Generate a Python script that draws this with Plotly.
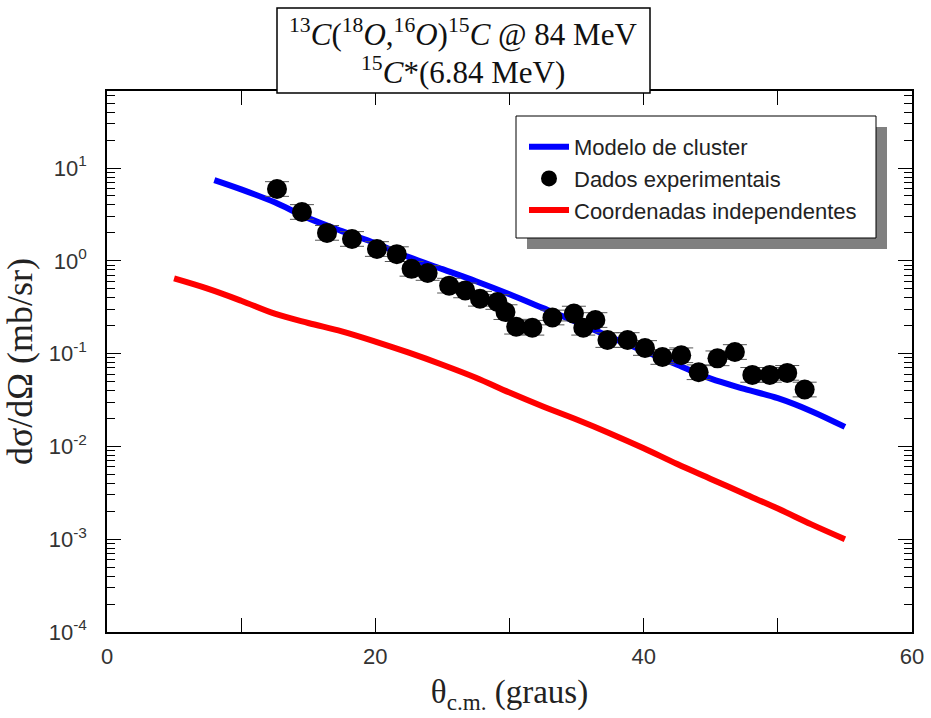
import plotly.graph_objects as go

# ---- data ----
theta_cluster = [8, 10, 12.5, 15, 17.5, 20, 22.5, 25, 27.5, 30, 32.5, 35, 37.5, 40, 42.5, 45, 47.5, 50, 52.5, 55]
log_cluster = [0.87, 0.77, 0.63, 0.46, 0.32, 0.19, 0.04, -0.09, -0.22, -0.36, -0.51, -0.66, -0.82, -0.97,
               -1.12, -1.27, -1.38, -1.48, -1.62, -1.79]
sigma_cluster = [10 ** v for v in log_cluster]

theta_indep = [5, 7.5, 10, 12.5, 15, 17.5, 20, 22.5, 25, 27.5, 30, 32.5, 35, 37.5, 40, 42.5, 45, 47.5, 50, 52.5, 55]
log_indep = [-0.19, -0.30, -0.43, -0.57, -0.67, -0.76, -0.87, -0.99, -1.12, -1.26, -1.42, -1.57, -1.71, -1.86,
             -2.02, -2.19, -2.35, -2.51, -2.67, -2.84, -3.0]
sigma_indep = [10 ** v for v in log_indep]

theta_exp = [12.67, 14.53, 16.4, 18.26, 20.12, 21.6, 22.7, 23.9, 25.5, 26.7, 27.8, 29.1, 29.7, 30.5, 31.7,
             33.2, 34.8, 35.5, 36.4, 37.3, 38.8, 40.1, 41.4, 42.8, 44.1, 45.5, 46.8, 48.1, 49.4, 50.7, 52.0]
sigma_exp = [5.94, 3.36, 2.0, 1.72, 1.34, 1.18, 0.82, 0.74, 0.54, 0.48, 0.39, 0.36, 0.28, 0.195, 0.19,
             0.245, 0.27, 0.19, 0.23, 0.14, 0.14, 0.115, 0.092, 0.096, 0.063, 0.089, 0.104, 0.059, 0.059,
             0.062, 0.041]
err_frac = 0.2

x_tickvals = [0, 10, 20, 30, 40, 50, 60]
x_ticktext = ["0", "", "20", "", "40", "", "60"]
y_exponents = [-4, -3, -2, -1, 0, 1]

title_line1 = ("<sup>13</sup><i>C</i>(<sup>18</sup><i>O</i>,<sup>16</sup><i>O</i>)"
               "<sup>15</sup><i>C</i> @ 84 MeV")
title_line2 = "<sup>15</sup><i>C</i>*(6.84 MeV)"

err_plus = [s * err_frac for s in sigma_exp]
err_minus = [s * err_frac / (1 + err_frac) for s in sigma_exp]

fig = go.Figure()
fig.add_trace(go.Scatter(x=theta_cluster, y=sigma_cluster, mode="lines", name="Modelo de cluster",
                         line=dict(color="#0000ff", width=6), line_shape="spline"))
fig.add_trace(go.Scatter(x=theta_exp, y=sigma_exp, mode="markers", name="Dados experimentais",
                         marker=dict(color="black", size=20, symbol="circle"),
                         error_y=dict(type="data", array=err_plus, arrayminus=err_minus,
                                      color="#555555", thickness=1, width=12)))
fig.add_trace(go.Scatter(x=theta_indep, y=sigma_indep, mode="lines", name="Coordenadas independentes",
                         line=dict(color="#ff0000", width=6), line_shape="spline"))

minor_y = [m * 10 ** e for e in range(-4, 2) for m in range(2, 10) if m * 10 ** e < 68]

L, R, T, B = 107, 19, 91, 86
PW, PH = 931 - L - R, 718 - T - B


def px_x(p):
    return (p - L) / PW


def px_y(p):
    return 1 - (p - T) / PH


fig.update_layout(
    width=931, height=718,
    margin=dict(l=L, r=R, t=T, b=B, autoexpand=False),
    paper_bgcolor="white", plot_bgcolor="white",
    showlegend=True,
    legend=dict(x=px_x(524), y=px_y(126), xanchor="left", yanchor="top",
                bgcolor="rgba(0,0,0,0)", borderwidth=0,
                font=dict(family="Liberation Sans", size=22, color="#222222"),
                tracegroupgap=4, itemwidth=40),
    xaxis=dict(range=[0, 60], tickvals=x_tickvals, ticktext=x_ticktext, automargin=False,
               ticks="inside", ticklen=14, tickcolor="black", tickwidth=1, ticklabelstandoff=4,
               showline=True, linecolor="black", linewidth=1.5, mirror="allticks",
               showgrid=False, zeroline=False,
               tickfont=dict(family="Liberation Sans", size=22, color="#333333"),
               title=dict(text="θ<sub>c.m.</sub> (graus)", standoff=12,
                          font=dict(family="Liberation Serif", size=33, color="#222222"))),
    yaxis=dict(type="log", range=[-4, 1.83], automargin=False,
               tickvals=[10 ** e for e in y_exponents],
               ticktext=["10<sup>%d</sup>" % e for e in y_exponents],
               ticks="inside", ticklen=14, tickcolor="black", tickwidth=1, ticklabelstandoff=14,
               minor=dict(tickvals=minor_y, ticks="inside", ticklen=8, tickcolor="black", tickwidth=1,
                          showgrid=False),
               showline=True, linecolor="black", linewidth=1.5, mirror="allticks",
               showgrid=False, zeroline=False,
               tickfont=dict(family="Liberation Sans", size=22, color="#333333"),
               title=dict(text="dσ/dΩ (mb/sr)", standoff=8,
                          font=dict(family="Liberation Serif", size=36, color="#222222"))),
)

# legend shadow and frame
fig.add_shape(type="rect", xref="paper", yref="paper",
              x0=px_x(527), x1=px_x(887), y0=px_y(249), y1=px_y(127),
              fillcolor="#808080", line=dict(width=0), layer="above")
fig.add_shape(type="rect", xref="paper", yref="paper",
              x0=px_x(516), x1=px_x(876), y0=px_y(238), y1=px_y(116),
              fillcolor="white", line=dict(color="black", width=1), layer="above")

# title box
fig.add_shape(type="rect", xref="paper", yref="paper",
              x0=px_x(277), x1=px_x(650), y0=px_y(93), y1=px_y(8),
              fillcolor="white", line=dict(color="black", width=1.5), layer="above")
fig.add_annotation(xref="paper", yref="paper", x=px_x(463), y=px_y(33),
                   xanchor="center", yanchor="middle", showarrow=False, text=title_line1,
                   font=dict(family="Liberation Serif", size=31, color="#111111"))
fig.add_annotation(xref="paper", yref="paper", x=px_x(463), y=px_y(71),
                   xanchor="center", yanchor="middle", showarrow=False, text=title_line2,
                   font=dict(family="Liberation Serif", size=31, color="#111111"))

fig.write_html("out.html", post_script="document.body.style.margin='0';",
               config={"displayModeBar": False})
